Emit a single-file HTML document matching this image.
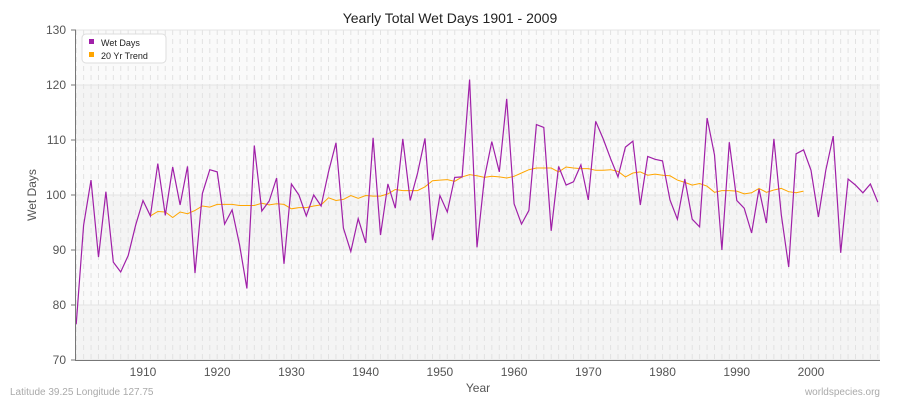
<!DOCTYPE html>
<html><head><meta charset="utf-8"><style>
body{margin:0;background:#fff;font-family:"Liberation Sans",sans-serif}
</style></head><body>
<svg id="s" width="900" height="400" xmlns="http://www.w3.org/2000/svg" font-family="Liberation Sans, sans-serif">
<rect width="900" height="400" fill="#fff"/>
<g id="bands"></g>
<g id="grid"></g>
<text x="450" y="23" text-anchor="middle" font-size="14" fill="#222">Yearly Total Wet Days 1901 - 2009</text>
<text x="36" y="195" text-anchor="middle" font-size="12" fill="#555" transform="rotate(-90 36 195)">Wet Days</text>
<text x="478" y="392" text-anchor="middle" font-size="12" fill="#555">Year</text>
<text x="10" y="395" font-size="10" fill="#aaa">Latitude 39.25 Longitude 127.75</text>
<text x="880" y="395" text-anchor="end" font-size="10" fill="#aaa">worldspecies.org</text>
<g id="lab"></g>
<polyline id="tr" fill="none" stroke="#ffa500" stroke-width="1"/>
<polyline id="wd" fill="none" stroke="#a020a8" stroke-width="1.2"/>
<line x1="75.5" y1="30" x2="75.5" y2="360" stroke="#777"/>
<line x1="75" y1="360.5" x2="880" y2="360.5" stroke="#777"/>
<rect x="82" y="34" width="84" height="29" rx="4" fill="#fff" stroke="#ddd"/>
<rect x="89" y="39" width="5" height="5" fill="#a020a8"/>
<text x="101" y="46" font-size="9" fill="#222">Wet Days</text>
<rect x="89" y="52" width="5" height="5" fill="#ffa500"/>
<text x="101" y="59" font-size="9" fill="#222">20 Yr Trend</text>
</svg>
<script>
var X=y=>76.2+(y-1901)*7.422, Y=v=>360-(v-70)*5.5, ns="http://www.w3.org/2000/svg";
function el(p,t,a){var e=document.createElementNS(ns,t);for(var k in a)e.setAttribute(k,a[k]);document.getElementById(p).appendChild(e);return e;}
for(var i=0;i<6;i++){el("bands","rect",{x:76,y:Y(80+i*10),width:804,height:55,fill:i%2?"#fafafa":"#f4f4f4"});}
el("bands","rect",{x:76,y:Y(80),width:804,height:55,fill:"#f4f4f4"});
for(var y=1901;y<=2009;y++)el("grid","line",{x1:X(y),x2:X(y),y1:30,y2:360,stroke:"#e2e2e2","stroke-dasharray":"5,4"});
for(var v=70;v<=130;v+=10){el("grid","line",{x1:76,x2:880,y1:Y(v),y2:Y(v),stroke:"#e4e4e4"});
var t=el("lab","text",{x:66,y:Y(v)+4,"text-anchor":"end","font-size":"12",fill:"#555"});t.textContent=v;
el("lab","line",{x1:71,x2:76,y1:Y(v),y2:Y(v),stroke:"#777"});}
for(var y=1910;y<=2000;y+=10){var t=el("lab","text",{x:X(y),y:376,"text-anchor":"middle","font-size":"12",fill:"#555"});t.textContent=y;}
var d=[76.5,94.5,102.7,88.7,100.6,87.8,86,89,94.5,99,96.2,105.7,96.3,105.1,98.2,105.2,85.8,100.3,104.6,104.2,94.7,97.3,91,83,109,97.1,98.9,103.1,87.5,102,100,96.2,100,98,104.2,109.5,94,89.7,95.7,91.3,110.4,92.7,102,97.6,110.2,99,104,110.3,91.8,99.9,96.9,103.2,103.3,121,90.5,103.1,109.7,104.2,117.5,98.4,94.7,97.2,112.8,112.3,93.5,105.2,101.8,102.4,105.5,99.1,113.4,110.2,106.6,103.3,108.7,109.8,98.2,107,106.5,106.2,99.1,95.6,102.9,95.6,94.2,114,107.3,90,109.6,99,97.6,93.1,101.1,94.9,110.2,96.4,86.9,107.5,108.2,104.5,96,104.5,110.7,89.5,102.9,101.8,100.4,102,98.7];
document.getElementById("wd").setAttribute("points",d.map((v,i)=>X(1901+i).toFixed(1)+","+Y(v).toFixed(1)).join(" "));
var tr=[96.2,97,96.9,95.9,96.9,96.6,97.2,98,97.8,98.3,98.3,98.3,98.1,98.1,98.1,98.5,98.2,98.4,98.3,97.5,97.7,97.7,98,98.2,99.5,99,99.2,99.9,99.4,99.9,99.8,99.8,100.2,101,100.8,100.8,100.8,101.5,102.6,102.7,102.8,102.5,103.3,103.7,103.5,103.2,103.4,103.3,103.1,103.4,104,104.6,104.9,104.9,104.9,104.2,105.1,104.9,104.8,104.8,104.5,104.5,104.6,104.3,103.3,104,104.2,103.6,103.8,103.6,103.5,102.7,102.3,101.8,102.1,101.6,100.5,100.8,100.8,100.7,100.2,100.4,101.2,100.5,100.9,101.2,100.6,100.4,100.7];
document.getElementById("tr").setAttribute("points",tr.map((v,i)=>X(1911+i).toFixed(1)+","+Y(v).toFixed(1)).join(" "));
</script>
</body></html>
